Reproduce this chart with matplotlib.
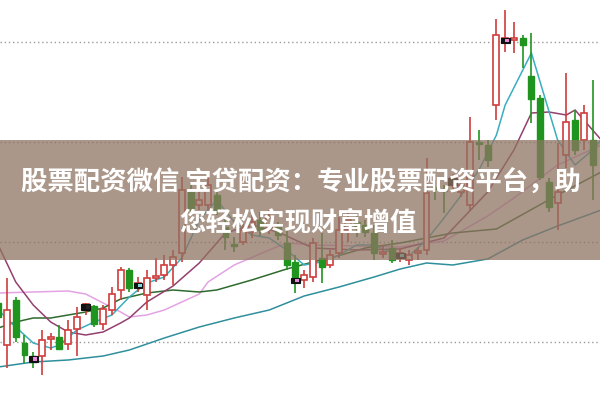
import numpy as np
import matplotlib.pyplot as plt
from matplotlib.patches import Rectangle

plt.rcParams["font.family"] = ["Noto Sans CJK SC", "DejaVu Sans"]

# daily candles (index, open, high, low, close)
idx = list(range(-1, 68))
opens = [10.39, 9.97, 10.42, 9.99, 9.86, 9.86, 10.03, 10.05, 9.98, 10.13,
         10.32, 10.36, 10.18, 10.32, 10.52, 10.72, 10.54, 10.47, 10.64, 10.67,
         10.77, 10.89, 11.50, 11.37, 11.37, 11.47, 11.15, 10.98, 11.00, 11.10,
         11.22, 11.14, 11.15, 10.99, 10.80, 10.62, 10.65, 10.84, 10.77, 10.89,
         11.12, 11.20, 11.17, 11.09, 10.88, 10.94, 10.84, 10.82, 10.89, 10.92,
         11.55, 11.53, 11.57, 11.50, 11.37, 12.00, 11.97, 12.37, 12.99, 13.02,
         13.04, 12.66, 12.44, 11.60, 11.39, 11.87, 12.22, 12.02, 12.02]
highs = [10.47, 10.64, 10.45, 10.07, 9.90, 10.12, 10.09, 10.17, 10.22, 10.35,
         10.39, 10.37, 10.37, 10.55, 10.75, 10.74, 10.65, 10.72, 10.84, 10.87,
         10.92, 11.65, 11.59, 11.65, 11.70, 11.52, 11.25, 11.05, 11.19, 11.27,
         11.30, 11.32, 11.20, 11.12, 10.87, 10.72, 11.04, 11.09, 10.92, 11.25,
         11.30, 11.28, 11.22, 11.17, 10.97, 11.02, 10.94, 10.92, 10.95, 11.84,
         11.62, 11.57, 11.68, 11.65, 12.25, 12.12, 12.02, 13.23, 13.32, 13.20,
         13.07, 13.09, 12.47, 11.64, 11.99, 12.69, 12.32, 12.37, 12.62]
lows = [10.17, 9.74, 10.00, 9.79, 9.74, 9.67, 9.92, 9.92, 9.92, 9.86,
        10.27, 10.15, 10.12, 10.27, 10.42, 10.50, 10.50, 10.32, 10.60, 10.62,
        10.57, 10.80, 11.25, 11.32, 11.32, 11.27, 10.92, 10.90, 10.97, 11.04,
        11.06, 11.08, 11.02, 10.72, 10.49, 10.54, 10.60, 10.59, 10.74, 10.84,
        11.00, 11.05, 11.05, 10.82, 10.84, 10.79, 10.80, 10.77, 10.82, 10.87,
        11.42, 11.29, 11.50, 11.45, 11.32, 11.82, 11.75, 12.22, 12.90, 12.89,
        12.74, 12.19, 11.62, 11.30, 11.12, 11.74, 11.87, 11.92, 11.42]
closes = [10.25, 10.32, 10.05, 9.87, 9.80, 10.02, 10.05, 9.93, 10.12, 10.25,
          10.38, 10.18, 10.33, 10.48, 10.72, 10.54, 10.59, 10.64, 10.66, 10.77,
          10.85, 11.52, 11.34, 11.42, 11.57, 11.32, 11.05, 10.96, 11.12, 11.20,
          11.12, 11.24, 11.07, 10.77, 10.65, 10.67, 10.99, 10.75, 10.87, 11.12,
          11.22, 11.15, 11.10, 10.89, 10.90, 10.82, 10.89, 10.87, 10.91, 11.49,
          11.53, 11.51, 11.64, 11.57, 12.00, 11.98, 11.82, 13.07, 13.04, 13.04,
          12.97, 12.43, 11.65, 11.35, 11.50, 12.20, 11.92, 12.29, 11.77]

# highlighted doji markers (index, low, high, tint)
mark_idx = [3, 9, 15, 33, 45, 51, 57]
mark_lo = [9.80, 10.32, 10.54, 10.59, 10.84, 11.57, 12.99]
mark_hi = [9.86, 10.38, 10.59, 10.64, 10.89, 11.64, 13.04]
mark_tint = ["#e58ad8", "#222222", "#7fd8e0", "#e58ad8", "#7fd8e0", "#222222", "#e58ad8"]

# moving averages (index, value)
ma5_i = [-1, 1, 3, 5, 6, 8, 10, 12, 14, 16, 18, 20, 22, 24, 26, 28, 30, 32, 34, 36,
         38, 40, 42, 44, 46, 48, 50, 52, 54, 56, 57, 60, 63, 65, 67, 68]
ma5_v = [10.32, 10.15, 9.99, 9.94, 9.97, 10.12, 10.20, 10.27, 10.45, 10.59, 10.65,
         10.84, 11.22, 11.42, 11.20, 11.07, 11.04, 10.92, 10.77, 10.80, 10.87, 10.97,
         10.97, 10.89, 10.86, 11.02, 11.24, 11.47, 11.72, 12.07, 12.37, 12.89, 12.02,
         11.77, 11.92, 12.02]
ma10_i = [-1, 1, 3, 5, 7, 9, 11, 13, 14, 16, 19, 22, 25, 28, 31, 35, 40, 45, 50,
          55, 58, 60, 62, 64, 65, 68]
ma10_v = [10.97, 10.60, 10.37, 10.20, 10.10, 10.07, 10.10, 10.19, 10.24, 10.40,
          10.56, 10.79, 11.09, 11.17, 11.10, 10.94, 10.92, 10.93, 11.04, 11.50,
          11.92, 12.29, 12.30, 12.27, 12.32, 12.02]
ma20_i = [-1, 1, 3, 5, 9, 11, 13, 16, 19, 22, 24, 28, 32, 35, 37, 41, 45, 51, 56, 63, 68]
ma20_v = [10.14, 10.20, 10.24, 10.24, 10.30, 10.34, 10.43, 10.49, 10.52, 10.50,
          10.52, 10.62, 10.73, 10.80, 10.84, 10.94, 10.99, 11.09, 11.13, 11.47, 11.70]
ma30_i = [-1, 3, 7, 9, 11, 13, 14, 16, 18, 22, 23, 26, 30, 32, 35, 40, 45, 50, 55,
          58, 63, 68]
ma30_v = [10.49, 10.50, 10.51, 10.48, 10.39, 10.30, 10.25, 10.27, 10.32, 10.48,
          10.60, 10.77, 10.92, 10.99, 10.97, 10.96, 10.95, 11.01, 11.26, 11.44,
          11.77, 11.97]
ma60_i = [-1, 3, 7, 11, 14, 18, 22, 26, 30, 34, 38, 42, 45, 48, 51, 55, 59, 63, 68]
ma60_v = [9.75, 9.80, 9.82, 9.86, 9.92, 10.04, 10.15, 10.24, 10.32, 10.46, 10.55,
          10.65, 10.73, 10.79, 10.77, 10.83, 11.02, 11.16, 11.32]

grid_levels = [10.0, 11.0, 12.0, 13.0]
title_1 = "股票配资微信 宝贷配资：专业股票配资平台，助"
title_2 = "您轻松实现财富增值"

red = "#d03c3c"
green = "#1f951f"
w = 0.68

fig = plt.figure(figsize=(6, 4), dpi=100)
ax = fig.add_axes([0, 0, 1, 1])

for y in grid_levels:
    ax.axhline(y, color="#9a9a9a", lw=1.0, ls=(0, (1, 2)), zorder=0)

ax.plot(ma60_i, ma60_v, color="#2f8f9c", lw=1.1, zorder=1)
ax.plot(ma30_i, ma30_v, color="#e3a3e3", lw=1.1, zorder=1)
ax.plot(ma20_i, ma20_v, color="#2f6a2f", lw=1.1, zorder=1)
ax.plot(ma10_i, ma10_v, color="#93406e", lw=1.1, zorder=1)
ax.plot(ma5_i, ma5_v, color="#3aaebf", lw=1.1, zorder=1)

for i, o, h, l, c in zip(idx, opens, highs, lows, closes):
    if c >= o:
        ax.vlines(i, l, o, color=red, lw=1.2, zorder=2)
        ax.vlines(i, c, h, color=red, lw=1.2, zorder=2)
        ax.add_patch(Rectangle((i - w / 2, o), w, max(c - o, 0.015),
                               facecolor="white", edgecolor=red, lw=1.2, zorder=3))
    else:
        ax.vlines(i, l, h, color=green, lw=1.2, zorder=2)
        ax.add_patch(Rectangle((i - w / 2, c), w, o - c,
                               facecolor=green, edgecolor=green, lw=1.0, zorder=3))

for i, lo, hi, t in zip(mark_idx, mark_lo, mark_hi, mark_tint):
    ax.add_patch(Rectangle((i - 0.5, lo), 1.0, hi - lo, facecolor="#111111",
                           edgecolor="#111111", lw=0.8, zorder=4))
    ax.add_patch(Rectangle((i, lo + 0.01), 0.45, hi - lo - 0.02, facecolor=t,
                           edgecolor="none", zorder=5))

ax.set_xlim(-0.8, 67.85)
ax.set_ylim(9.42, 13.42)
ax.axis("off")

# overlay banner
ax.add_patch(Rectangle((0, 0.35), 1, 0.30, transform=ax.transAxes,
                       facecolor="#8f7462", alpha=0.75, edgecolor="none", zorder=6))
ax.text(0.502, 0.5425, title_1, transform=ax.transAxes, ha="center", va="center",
        color="white", fontsize=19, fontweight="bold", zorder=7)
ax.text(0.497, 0.443, title_2, transform=ax.transAxes, ha="center", va="center",
        color="white", fontsize=19, fontweight="bold", zorder=7)

fig.savefig("out.png", dpi=100)
